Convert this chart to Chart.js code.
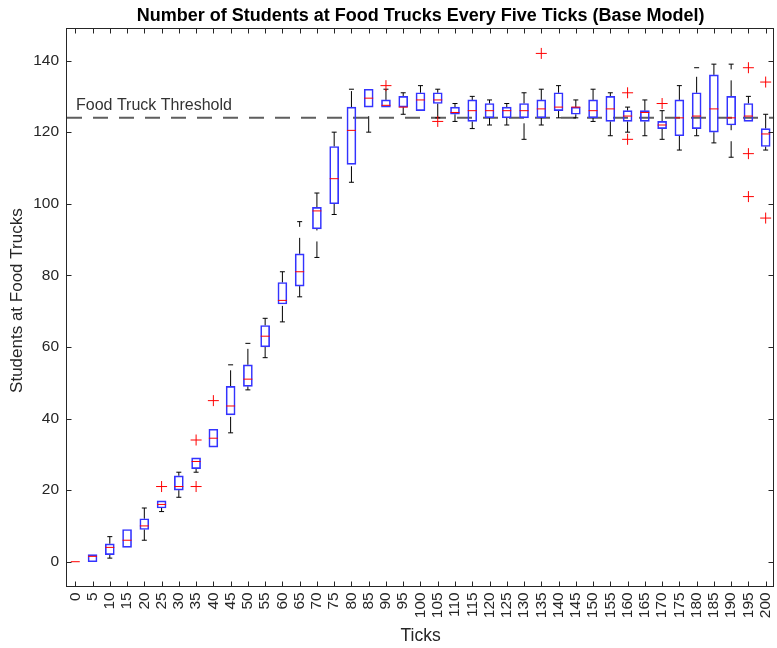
<!DOCTYPE html>
<html>
<head>
<meta charset="utf-8">
<title>Number of Students at Food Trucks Every Five Ticks</title>
<script src="https://cdn.jsdelivr.net/npm/chart.js@4.4.1/dist/chart.umd.min.js"></script>
<style>
  html, body { margin: 0; padding: 0; background: #fff; }
  canvas { display: block; }
</style>
</head>
<body>
<canvas id="chart" width="777" height="648"></canvas>
<script>
// valores (boxplot a cada 5 ticks)
const ticks  = [0, 5, 10, 15, 20, 25, 30, 35, 40, 45, 50, 55, 60, 65, 70, 75, 80, 85, 90, 95, 100,
                105, 110, 115, 120, 125, 130, 135, 140, 145, 150, 155, 160, 165, 170, 175, 180, 185, 190, 195, 200];
const q1     = [0, 0, 2, 4, 9, 15, 20, 26, 32, 41, 49, 60, 72, 77, 93, 100, 111, 127, 127, 127, 126,
                128, 125, 123, 124, 124, 124, 124, 126, 125, 124, 123, 123, 123, 121, 119, 121, 120, 122, 123, 116];
const median = [0, 1.5, 4, 6, 10, 16, 21, 28, 34.5, 43.5, 51, 63, 73, 81, 98, 107, 120.5, 129.5, 127.5, 127, 129,
                129, 125.5, 126, 126, 126, 126, 126.5, 127, 127, 126, 126.5, 124.5, 125.5, 122, 124, 124.5, 126.5, 124, 124.5, 119.5];
const q3     = [0, 2, 5, 9, 12, 17, 24, 29, 37, 49, 55, 66, 78, 86, 99, 116, 127, 132, 129, 130, 131,
                131, 127, 129, 128, 127, 128, 129, 131, 127, 129, 130, 126, 126, 123, 129, 131, 136, 130, 128, 121];
const lo     = [0, 0, 1, 4, 6, 14, 18, 25, 32, 36, 48, 57, 67, 74, 85, 97, 106, 120, 127, 125, 126,
                124, 123, 121, 122, 122, 118, 122, 124, 124, 123, 119, 120, 119, 118, 115, 119, 117, 113, 123, 115];
const hi     = [0, 2, 7, 9, 15, 17, 25, 29, 37, 55, 61, 68, 81, 95, 103, 120, 132, 132, 132, 131, 133,
                132, 128, 130, 129, 128, 131, 132, 133, 129, 132, 131, 127, 129, 126, 133, 138, 139, 139, 130, 125];

const outlierTicks  = [25, 35, 35, 40, 90, 105, 135, 160, 160, 170, 195, 195, 195, 200, 200];
const outlierValues = [21, 34, 21, 45, 133, 123, 142, 131, 118, 128, 138, 114, 102, 134, 96];

const yTicks = [0, 20, 40, 60, 80, 100, 120, 140];

const THRESHOLD = 124;
const THRESHOLD_LABEL = "Food Truck Threshold";
const TITLE = "Number of Students at Food Trucks Every Five Ticks (Base Model)";
const X_LABEL = "Ticks";
const Y_LABEL = "Students at Food Trucks";

const X_MIN = -2.4, X_MAX = 202.5;
const Y_MIN = -7.15, Y_MAX = 149.1;

const FONT = '"Liberation Sans", Arial, Helvetica, sans-serif';
const INK = "#262626";

// pontos dos bigodes: q3 -> máximo e mínimo -> q1, separados por null
const whiskerPts = [];
const capPts = [];
ticks.forEach((t, i) => {
  if (hi[i] > q3[i]) {
    whiskerPts.push({ x: t, y: q3[i] }, { x: t, y: hi[i] }, { x: t, y: null });
    capPts.push({ x: t, y: hi[i] });
  }
  if (lo[i] < q1[i]) {
    whiskerPts.push({ x: t, y: lo[i] }, { x: t, y: q1[i] }, { x: t, y: null });
    capPts.push({ x: t, y: lo[i] });
  }
});

// moldura, ticks internos e textos no estilo MATLAB
const frame = {
  id: "frame",
  afterDraw(chart) {
    const { ctx, chartArea: a, scales: { x, y } } = chart;
    const L = Math.round(a.left) - 0.5, R = Math.round(a.right) - 0.5;
    const T = Math.round(a.top) + 0.5, B = Math.round(a.bottom) - 0.5;
    ctx.save();
    ctx.strokeStyle = INK;
    ctx.lineWidth = 1;
    ctx.strokeRect(L, T, R - L, B - T);
    ctx.beginPath();
    x.ticks.forEach(t => {
      const px = Math.round(x.getPixelForValue(t.value)) + 0.5;
      ctx.moveTo(px, B); ctx.lineTo(px, B - 5);
      ctx.moveTo(px, T); ctx.lineTo(px, T + 5);
    });
    y.ticks.forEach(t => {
      const py = Math.round(y.getPixelForValue(t.value)) + 0.5;
      ctx.moveTo(L, py); ctx.lineTo(L + 5, py);
      ctx.moveTo(R, py); ctx.lineTo(R - 5, py);
    });
    ctx.stroke();

    ctx.fillStyle = "#000";
    ctx.textAlign = "center";
    ctx.textBaseline = "alphabetic";
    ctx.font = "bold 18px " + FONT;
    ctx.fillText(TITLE, (a.left + a.right) / 2, 21);

    ctx.fillStyle = INK;
    ctx.font = "17.5px " + FONT;
    ctx.fillText(X_LABEL, (a.left + a.right) / 2, 641);

    ctx.save();
    ctx.translate(17, (a.top + a.bottom) / 2 - 7);
    ctx.rotate(-Math.PI / 2);
    ctx.textBaseline = "middle";
    ctx.font = "17px " + FONT;
    ctx.fillText(Y_LABEL, 0, 0);
    ctx.restore();

    ctx.textAlign = "left";
    ctx.font = "16px " + FONT;
    ctx.fillStyle = "#333";
    ctx.fillText(THRESHOLD_LABEL, a.left + 9, y.getPixelForValue(THRESHOLD) - 7.5);
    ctx.restore();
  }
};

new Chart(document.getElementById("chart"), {
  type: "bar",
  data: {
    datasets: [
      {
        type: "line",
        label: "mediana",
        data: ticks.map((t, i) => ({ x: t, y: median[i] })),
        showLine: false,
        pointStyle: "line",
        pointRadius: 4.5,
        pointBorderColor: "#ff0000",
        pointBorderWidth: 1,
      },
      {
        type: "line",
        label: "outliers",
        data: outlierTicks.map((t, i) => ({ x: t, y: outlierValues[i] })),
        showLine: false,
        pointStyle: "cross",
        pointRadius: 5.5,
        pointBorderColor: "#ff0000",
        pointBorderWidth: 1,
      },
      {
        label: "caixas",
        data: ticks.map((t, i) => ({ x: t, y: [q1[i], q3[i]] })),
        backgroundColor: "rgba(0,0,0,0)",
        borderColor: "#3333ff",
        borderWidth: 1,
        borderSkipped: false,
        barThickness: 9,
        grouped: false,
      },
      {
        type: "line",
        label: "limites",
        data: capPts,
        showLine: false,
        pointStyle: "line",
        pointRadius: 2.5,
        pointBorderColor: "#000",
        pointBorderWidth: 1,
      },
      {
        type: "line",
        label: "bigodes",
        data: whiskerPts,
        borderColor: "#000",
        borderWidth: 1,
        borderDash: [16, 11],
        pointRadius: 0,
        spanGaps: false,
      },
      {
        type: "line",
        label: "limiar",
        data: [{ x: X_MIN, y: THRESHOLD }, { x: X_MAX, y: THRESHOLD }],
        borderColor: "#5e5e5e",
        borderWidth: 2,
        borderDash: [15, 11],
        pointRadius: 0,
      },
    ],
  },
  options: {
    responsive: false,
    animation: false,
    events: [],
    layout: { autoPadding: false, padding: { top: 28, right: 2.7, bottom: 0, left: 0 } },
    plugins: { legend: { display: false }, tooltip: { enabled: false } },
    scales: {
      x: {
        type: "linear",
        min: X_MIN,
        max: X_MAX,
        offset: false,
        grid: { display: false, drawTicks: false },
        border: { display: false },
        afterFit: s => { s.height = 60.7; s.paddingLeft = 0; s.paddingRight = 0; },
        ticks: {
          stepSize: 5,
          includeBounds: false,
          autoSkip: false,
          minRotation: 90,
          maxRotation: 90,
          padding: 5,
          color: INK,
          font: { family: FONT, size: 15.5 },
        },
      },
      y: {
        min: Y_MIN,
        max: Y_MAX,
        grid: { display: false, drawTicks: false },
        border: { display: false },
        afterFit: s => { s.width = 67; s.paddingTop = 0; s.paddingBottom = 0; },
        afterBuildTicks: s => { s.ticks = yTicks.map(v => ({ value: v })); },
        ticks: {
          padding: 8,
          color: INK,
          font: { family: FONT, size: 15.5 },
        },
      },
    },
  },
  plugins: [frame],
});
</script>
</body>
</html>
